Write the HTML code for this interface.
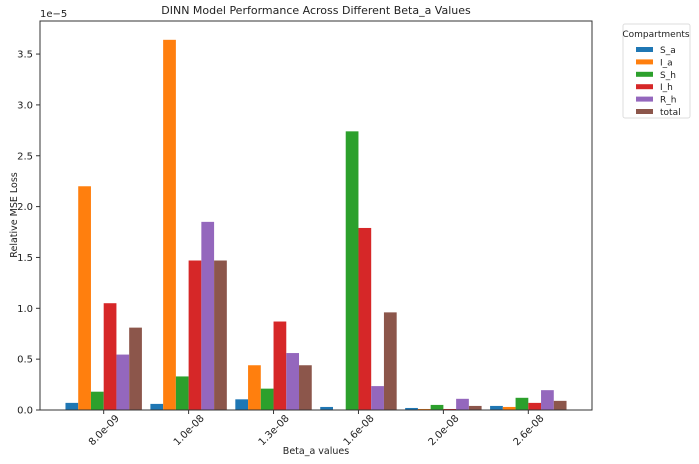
<!DOCTYPE html>
<html><head><meta charset="utf-8"><style>
body{margin:0;background:#fff;font-family:"Liberation Sans","DejaVu Sans",sans-serif}
svg text{font-family:"DejaVu Sans","Liberation Sans",sans-serif;fill:#222}
</style></head><body>
<svg id="c" width="699" height="459" xmlns="http://www.w3.org/2000/svg"></svg>
<script>
const categories=["8.0e-09","1.0e-08","1.3e-08","1.6e-08","2.0e-08","2.6e-08"];
const seriesNames=["S_a","I_a","S_h","I_h","R_h","total"];
const S_a=[0.07,0.06,0.105,0.03,0.02,0.04];
const I_a=[2.2,3.64,0.44,0,0.01,0.03];
const S_h=[0.18,0.33,0.21,2.74,0.05,0.12];
const I_h=[1.05,1.47,0.87,1.79,0.01,0.07];
const R_h=[0.545,1.85,0.56,0.235,0.11,0.195];
const total=[0.81,1.47,0.44,0.96,0.04,0.09];
const yTicks=[0,0.5,1.0,1.5,2.0,2.5,3.0,3.5];
const colors=["#1f77b4","#ff7f0e","#2ca02c","#d62728","#9467bd","#8c564b"];
const series=[S_a,I_a,S_h,I_h,R_h,total];
const L=40,R=592,T=21,B=410,yMax=3.825;
const xs=i=>L+(i+0.75)/6.5*(R-L);
const ys=v=>B-v/yMax*(B-T);
const svg=document.getElementById('c');const NS="http://www.w3.org/2000/svg";
function mk(t,a,p){const e=document.createElementNS(NS,t);for(const k in a)e.setAttribute(k,a[k]);(p||svg).appendChild(e);return e;}
const step=(R-L)/6.5, bw=step*0.9/6;
series.forEach((s,j)=>{s.forEach((v,i)=>{
 const x=xs(i)-step*0.45+j*bw;
 const r=mk('rect',{x:x,y:ys(v),width:bw,height:B-ys(v),fill:colors[j]});
 
 
});});
const ax=mk('rect',{x:L,y:T,width:R-L,height:B-T,fill:'none',stroke:'#333','stroke-width':1});

yTicks.forEach(t=>{const y=ys(t);mk('line',{x1:L-4,x2:L,y1:y,y2:y,stroke:'#333'});
 const tx=mk('text',{x:L-7,y:y+3.5,'font-size':10,'text-anchor':'end'});tx.textContent=t.toFixed(1);
 });
categories.forEach((c,i)=>{const x=xs(i);mk('line',{x1:x,x2:x,y1:B,y2:B+4,stroke:'#333'});
 const cy=B+20;
 const tx=mk('text',{x:x,y:cy+3.5,'font-size':10,'text-anchor':'middle',transform:`rotate(-45 ${x} ${cy})`});tx.textContent=c;
 });
let t=mk('text',{x:L,y:T-4,'font-size':10});t.textContent='1e\u22125';
t=mk('text',{x:316,y:14,'font-size':11,'text-anchor':'middle'});t.textContent='DINN Model Performance Across Different Beta_a Values';
t=mk('text',{x:316,y:454,'font-size':9.5,'text-anchor':'middle'});t.textContent='Beta_a values';
t=mk('text',{x:17,y:215,'font-size':9.5,'text-anchor':'middle',transform:'rotate(-90 17 215)'});t.textContent='Relative MSE Loss';
const lg=mk('g',{});
mk('rect',{x:623,y:24,width:67,height:94,fill:'#fff',stroke:'#ddd',rx:2},lg);
t=mk('text',{x:656,y:37,'font-size':9,'text-anchor':'middle'},lg);t.textContent='Compartments';
seriesNames.forEach((n,j)=>{const y=50+j*12.4;
 const g=mk('g',{},lg);
 mk('rect',{x:636,y:y-3,width:17,height:5,fill:colors[j]},g);
 const tx=mk('text',{x:660,y:y+3,'font-size':9},g);tx.textContent=n;});
</script>
</body></html>
